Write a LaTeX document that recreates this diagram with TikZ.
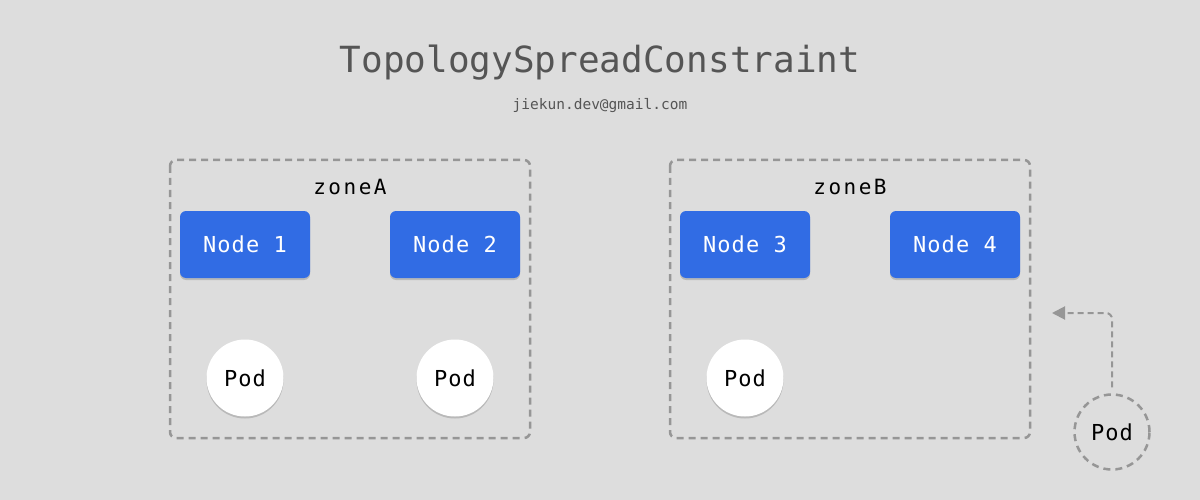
\documentclass[tikz,border=0pt]{standalone}
\usepackage{fontspec}
\setmonofont{DejaVu Sans Mono}
\newfontfamily\zonefont[LetterSpace=12]{DejaVu Sans Mono}
\newfontfamily\boxfont[LetterSpace=5]{DejaVu Sans Mono}
\usetikzlibrary{shadows,arrows.meta}
\definecolor{bg}{RGB}{221,221,221}
\definecolor{nodeblue}{RGB}{49,108,228}
\definecolor{dashgray}{RGB}{150,150,150}
\definecolor{titlegray}{RGB}{85,85,85}
\begin{document}
\begin{tikzpicture}[x=1pt,y=-1pt,
  zonebox/.style={draw=dashgray,line width=2.5pt,dash pattern=on 7pt off 5pt,rounded corners=6pt},
  k8snode/.style={fill=nodeblue,rounded corners=6pt,minimum width=130pt,minimum height=67pt,inner sep=0pt,text=white,
    font=\boxfont\fontsize{22}{26}\selectfont,drop shadow={shadow xshift=0pt,shadow yshift=-2pt,opacity=0.3,fill=black!60}},
  pod/.style={circle,fill=white,minimum size=77pt,inner sep=0pt,text=black,
    font=\boxfont\fontsize{22}{26}\selectfont,drop shadow={shadow xshift=0pt,shadow yshift=-2pt,opacity=0.3,fill=black!60}},
  newpod/.style={circle,draw=dashgray,line width=2.5pt,dash pattern=on 7pt off 5pt,minimum size=75pt,inner sep=0pt,
    font=\boxfont\fontsize{22}{26}\selectfont},
  zonelabel/.style={font=\zonefont\fontsize{21}{25}\selectfont,text=black},
  arrowline/.style={draw=dashgray,line width=2pt,dash pattern=on 6pt off 4pt,rounded corners=6pt,-{Triangle[length=13pt,width=13pt]}}
]
\fill[bg] (0,0) rectangle (1200,500);
\useasboundingbox (0,0) rectangle (1200,500);
\node[font=\ttfamily\fontsize{36}{40}\selectfont,text=titlegray] (title) at (600,63) {TopologySpreadConstraint};
\node[font=\ttfamily\fontsize{14.5}{17}\selectfont,text=titlegray] (email) at (600,106) {jiekun.dev@gmail.com};

\draw[zonebox] (170,160) rectangle (530,438);
\draw[zonebox] (670,160) rectangle (1030,438);
\node[zonelabel] (zA) at (350,187) {zoneA};
\node[zonelabel] (zB) at (850,187) {zoneB};

\node[k8snode] (n1) at (245,244.5) {Node 1};
\node[k8snode] (n2) at (455,244.5) {Node 2};
\node[k8snode] (n3) at (745,244.5) {Node 3};
\node[k8snode] (n4) at (955,244.5) {Node 4};

\node[pod] (p1) at (245,378) {Pod};
\node[pod] (p2) at (455,378) {Pod};
\node[pod] (p3) at (745,378) {Pod};

\node[newpod] (p4) at (1112,432) {Pod};
\coordinate (tip) at (1052,313);
\draw[arrowline] (p4.north) ++(0,-6) -- (1112,313) -- (tip);
\end{tikzpicture}
\end{document}
